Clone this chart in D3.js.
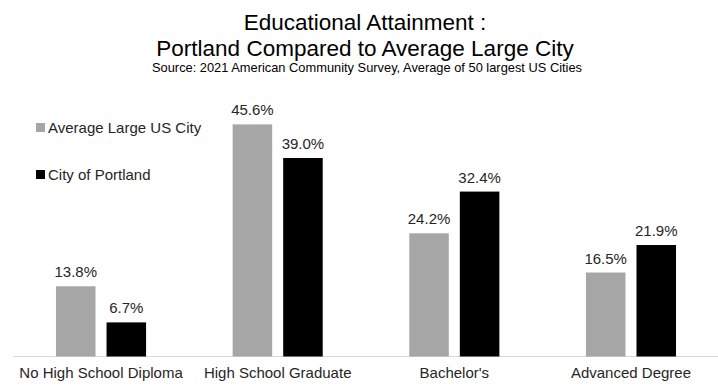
<!DOCTYPE html>
<html>
<head>
<meta charset="utf-8">
<script src="https://cdn.jsdelivr.net/npm/d3@7"></script>
<style>
  html, body { margin: 0; padding: 0; background: #fff; }
  svg { display: block; font-family: "Liberation Sans", Arial, sans-serif; }
</style>
</head>
<body>
<svg id="chart" width="718" height="386"></svg>
<script>
const categories = ["No High School Diploma", "High School Graduate", "Bachelor's", "Advanced Degree"];
const seriesNames = ["Average Large US City", "City of Portland"];
const averageLargeCity = [13.8, 45.6, 24.2, 16.5];
const cityOfPortland = [6.7, 39.0, 32.4, 21.9];
const seriesColors = ["#a6a6a6", "#000000"];
const titleLines = ["Educational Attainment :", "Portland Compared to Average Large City"];
const sourceText = "Source: 2021 American Community Survey, Average of 50 largest US Cities";

const svg = d3.select("#chart");
const W = 718, H = 386;
const baseY = 356.5;

const x0 = d3.scaleBand().domain(categories).range([12.7, 719.3]).paddingInner(0.49).paddingOuter(0.245);
const x1 = d3.scaleBand().domain(seriesNames).range([0, x0.bandwidth()]).paddingInner(0.218);
const y = d3.scaleLinear().domain([0, 50]).range([baseY, baseY - 50 * 5.09]);

const seriesValues = [averageLargeCity, cityOfPortland];
const data = categories.map((c, i) => ({
  cat: c,
  vals: seriesNames.map((s, j) => ({ s, j, v: seriesValues[j][i] }))
}));

// Titles
svg.append("text").attr("x", 365).attr("y", 30).attr("text-anchor", "middle")
  .attr("font-size", 22.5).attr("fill", "#000").text(titleLines[0]);
svg.append("text").attr("x", 365).attr("y", 56).attr("text-anchor", "middle")
  .attr("font-size", 22.5).attr("fill", "#000").text(titleLines[1]);
svg.append("text").attr("x", 367).attr("y", 72).attr("text-anchor", "middle")
  .attr("font-size", 13.5).attr("textLength", 430).attr("lengthAdjust", "spacingAndGlyphs")
  .attr("fill", "#000").text(sourceText);

// Axis baseline
const xAxis = d3.axisBottom(x0).tickSize(0).tickPadding(11);
const ax = svg.append("g").attr("transform", `translate(0,${baseY})`).call(xAxis);
ax.select(".domain").attr("stroke", "#d9d9d9").attr("stroke-width", 1).attr("d", `M13,0H718`);
ax.selectAll(".tick text").attr("font-size", 15).attr("fill", "#262626")
  .attr("font-family", "'Liberation Sans', Arial, sans-serif");

// Bars
const groups = svg.append("g").selectAll("g").data(data).join("g")
  .attr("transform", d => `translate(${x0(d.cat)},0)`);
groups.selectAll("rect").data(d => d.vals).join("rect")
  .attr("x", d => x1(d.s)).attr("width", x1.bandwidth())
  .attr("y", d => y(d.v)).attr("height", d => y(0) - y(d.v))
  .attr("fill", d => seriesColors[d.j]);
groups.selectAll("text.lbl").data(d => d.vals).join("text").attr("class", "lbl")
  .attr("x", d => x1(d.s) + x1.bandwidth() / 2).attr("y", d => y(d.v) - 9)
  .attr("text-anchor", "middle").attr("font-size", 15).attr("fill", "#262626")
  .text(d => d.v.toFixed(1) + "%");

// Legend
const legend = svg.append("g").selectAll("g").data(seriesNames).join("g")
  .attr("transform", (d, i) => `translate(36,${123 + i * 47})`);
legend.append("rect").attr("width", 9).attr("height", 9).attr("fill", (d, i) => seriesColors[i]);
legend.append("text").attr("x", 12).attr("y", 10).attr("font-size", 15).attr("fill", "#262626").text(d => d);
</script>
</body>
</html>
